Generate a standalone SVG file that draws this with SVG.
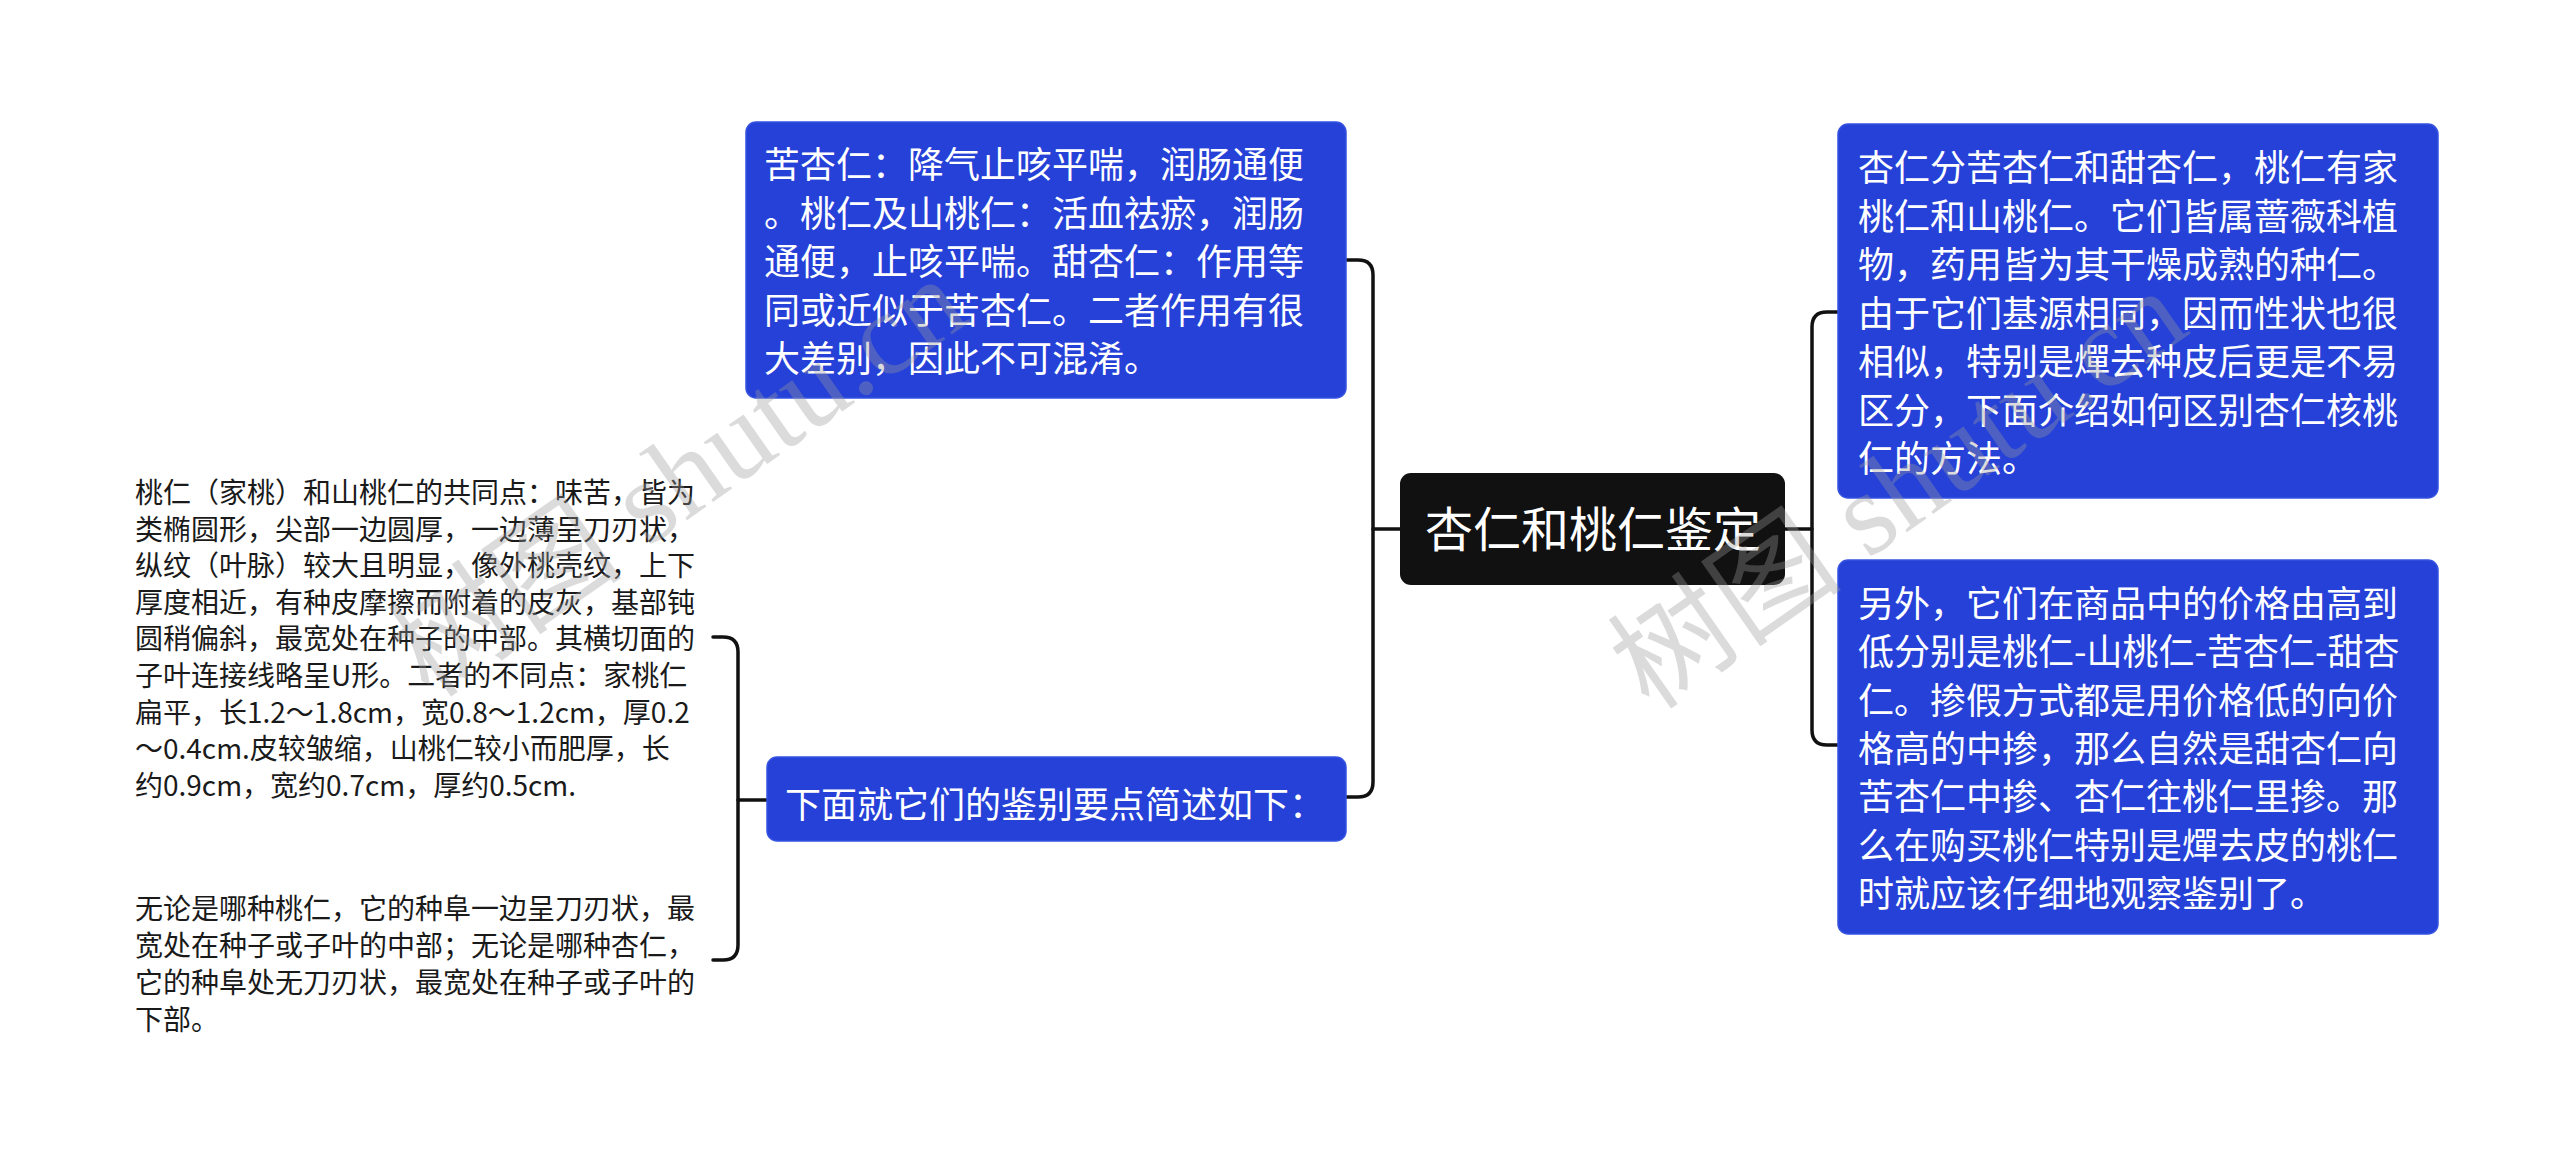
<svg xmlns="http://www.w3.org/2000/svg" width="2560" height="1169" viewBox="0 0 2560 1169">
<style>
.box{fill:#2541d8;stroke:#3553e0;stroke-width:1.5}
.t36{font-family:"Noto Sans CJK SC","Noto Sans",sans-serif;font-size:36px;fill:#ffffff}
.t28{font-family:"Noto Sans CJK SC","Noto Sans",sans-serif;font-size:28px;fill:#1a1a1a}
.conn{fill:none;stroke:#111111;stroke-width:3.5;stroke-linecap:round;stroke-linejoin:round}
.wm{font-family:"Liberation Serif","Noto Sans CJK SC",serif;font-size:118px;fill:#9a9a9a;opacity:0.35}
</style>
<rect width="2560" height="1169" fill="#ffffff"/>
<g id="connectors">
<path class="conn" d="M1400,529 H1373"/>
<path class="conn" d="M1346,260 H1358 Q1373,260 1373,275 V782 Q1373,797 1358,797 H1346"/>
<path class="conn" d="M1785,529 H1812"/>
<path class="conn" d="M1838,312 H1827 Q1812,312 1812,327 V730 Q1812,745 1827,745 H1838"/>
<path class="conn" d="M767,800 H738"/>
<path class="conn" d="M713,637 H723 Q738,637 738,652 V945 Q738,960 723,960 H713"/>
</g>
<g id="center">
<rect x="1400" y="473" width="385" height="112" rx="11" fill="#111111"/>
<text x="1593" y="547" text-anchor="middle" font-family="Noto Sans CJK SC, Noto Sans, sans-serif" font-size="48" fill="#ffffff">杏仁和桃仁鉴定</text>
</g>
<g id="node-top-left">
<rect class="box" x="746" y="122" width="600" height="276" rx="10"/>
<text class="t36" x="764" y="178">苦杏仁：降气止咳平喘，润肠通便</text>
<text class="t36" x="764" y="226.5">。桃仁及山桃仁：活血祛瘀，润肠</text>
<text class="t36" x="764" y="275">通便，止咳平喘。甜杏仁：作用等</text>
<text class="t36" x="764" y="323.5">同或近似于苦杏仁。二者作用有很</text>
<text class="t36" x="764" y="372">大差别，因此不可混淆。</text>
</g>
<g id="node-bottom-left">
<rect class="box" x="767" y="757" width="579" height="84" rx="10"/>
<text class="t36" x="785" y="818">下面就它们的鉴别要点简述如下：</text>
</g>
<g id="node-right-1">
<rect class="box" x="1838" y="124" width="600" height="374" rx="10"/>
<text class="t36" x="1858" y="181">杏仁分苦杏仁和甜杏仁，桃仁有家</text>
<text class="t36" x="1858" y="229.5">桃仁和山桃仁。它们皆属蔷薇科植</text>
<text class="t36" x="1858" y="278">物，药用皆为其干燥成熟的种仁。</text>
<text class="t36" x="1858" y="326.5">由于它们基源相同，因而性状也很</text>
<text class="t36" x="1858" y="375">相似，特别是燀去种皮后更是不易</text>
<text class="t36" x="1858" y="423.5">区分，下面介绍如何区别杏仁核桃</text>
<text class="t36" x="1858" y="472">仁的方法。</text>
</g>
<g id="node-right-2">
<rect class="box" x="1838" y="560" width="600" height="374" rx="10"/>
<text class="t36" x="1858" y="617">另外，它们在商品中的价格由高到</text>
<text class="t36" x="1858" y="665.3">低分别是桃仁-山桃仁-苦杏仁-甜杏</text>
<text class="t36" x="1858" y="713.6">仁。掺假方式都是用价格低的向价</text>
<text class="t36" x="1858" y="761.9">格高的中掺，那么自然是甜杏仁向</text>
<text class="t36" x="1858" y="810.2">苦杏仁中掺、杏仁往桃仁里掺。那</text>
<text class="t36" x="1858" y="858.5">么在购买桃仁特别是燀去皮的桃仁</text>
<text class="t36" x="1858" y="906.8">时就应该仔细地观察鉴别了。</text>
</g>
<g id="text-left-1">
<text class="t28" x="135" y="503">桃仁（家桃）和山桃仁的共同点：味苦，皆为</text>
<text class="t28" x="135" y="539.6">类椭圆形，尖部一边圆厚，一边薄呈刀刃状，</text>
<text class="t28" x="135" y="576.2">纵纹（叶脉）较大且明显，像外桃壳纹，上下</text>
<text class="t28" x="135" y="612.8">厚度相近，有种皮摩擦而附着的皮灰，基部钝</text>
<text class="t28" x="135" y="649.4">圆稍偏斜，最宽处在种子的中部。其横切面的</text>
<text class="t28" x="135" y="686">子叶连接线略呈U形。二者的不同点：家桃仁</text>
<text class="t28" x="135" y="722.6">扁平，长1.2～1.8cm，宽0.8～1.2cm，厚0.2</text>
<text class="t28" x="135" y="759.2">～0.4cm.皮较皱缩，山桃仁较小而肥厚，长</text>
<text class="t28" x="135" y="795.8">约0.9cm，宽约0.7cm，厚约0.5cm.</text>
</g>
<g id="text-left-2">
<text class="t28" x="135" y="919">无论是哪种桃仁，它的种阜一边呈刀刃状，最</text>
<text class="t28" x="135" y="956">宽处在种子或子叶的中部；无论是哪种杏仁，</text>
<text class="t28" x="135" y="993">它的种阜处无刀刃状，最宽处在种子或子叶的</text>
<text class="t28" x="135" y="1030">下部。</text>
</g>
<g id="watermarks">
<text class="wm" transform="translate(430,700) rotate(-35)">树图 shutu.cn</text>
<text class="wm" transform="translate(1650,712) rotate(-35)">树图 shutu.cn</text>
</g>
</svg>
